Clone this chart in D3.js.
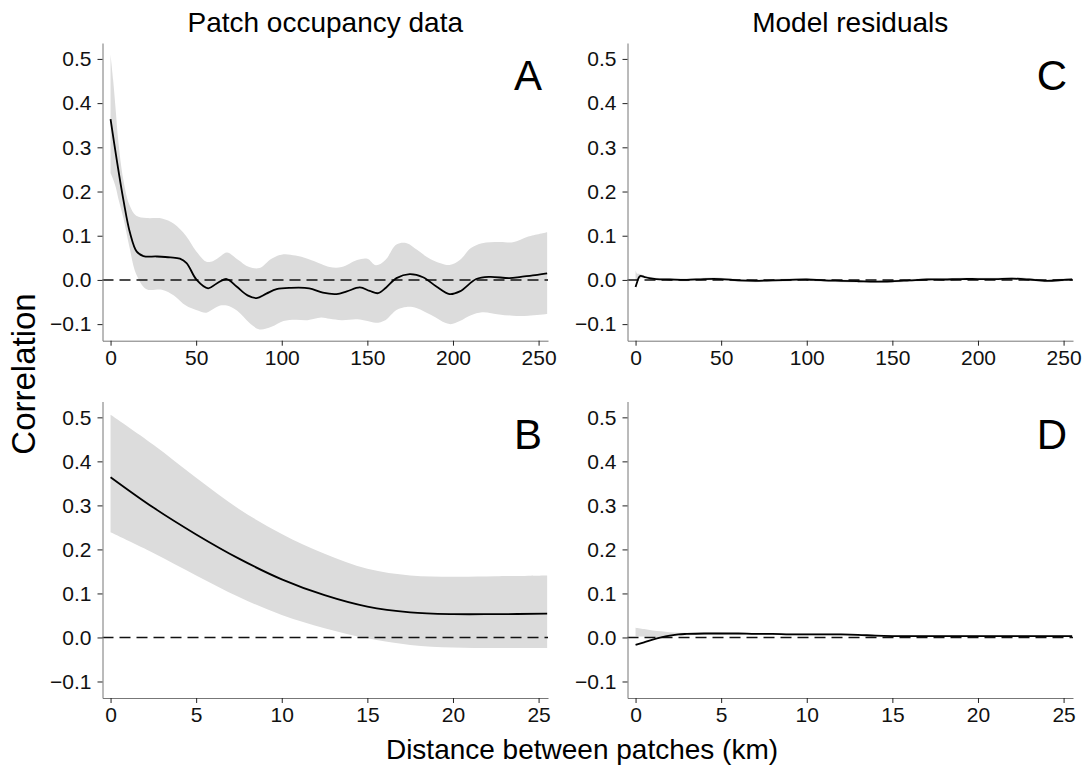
<!DOCTYPE html>
<html>
<head>
<meta charset="utf-8">
<script src="https://cdn.jsdelivr.net/npm/d3@7"></script>
<style>
  body { margin: 0; background: #fff; }
  svg { display: block; font-family: "Liberation Sans", Arial, Helvetica, sans-serif; }
</style>
</head>
<body>
<div id="container"></div>
<script>
// Canvas size
const width = 1087, height = 769;

// ---- data ----
// Panel A: patch occupancy, 0-255 km
const aLineDist = [0, 3.6, 7.5, 11.4, 15.3, 19.2, 27, 35, 40.5, 44.4, 50.3, 57, 62, 67.8, 73.6, 80, 85.3, 91, 97, 105,
    116, 124, 132, 138, 145.6, 151.4, 156.3, 161, 167, 174.7, 182.5, 190.3, 198, 204, 213.6, 221.4, 233, 239.7, 248, 255];
const aLine = [0.364, 0.272, 0.181, 0.106, 0.064, 0.054, 0.053, 0.051, 0.048, 0.038, 0.0, -0.019, -0.008, 0.002, -0.015, -0.035, -0.041, -0.031, -0.021, -0.018,
    -0.019, -0.029, -0.032, -0.026, -0.017, -0.025, -0.030, -0.017, 0.004, 0.013, 0.006, -0.015, -0.032, -0.026, 0.002, 0.007, 0.004, 0.007, 0.011, 0.015];
const aBandDist = [0, 1.5, 3, 4.5, 7.5, 11, 15, 21, 30, 37, 44, 50, 56, 60, 64, 68, 74, 81, 87, 94,
    101, 108, 115, 123, 128, 135, 144, 150, 155, 160.5, 167, 173, 179, 187, 198, 204, 210.5, 217, 227, 235, 244, 255];
const aUpper = [0.510, 0.453, 0.385, 0.315, 0.226, 0.170, 0.145, 0.140, 0.139, 0.127, 0.100, 0.065, 0.041, 0.043, 0.053, 0.062, 0.047, 0.029, 0.027, 0.048,
    0.058, 0.055, 0.048, 0.036, 0.029, 0.029, 0.045, 0.048, 0.033, 0.045, 0.080, 0.083, 0.068, 0.047, 0.034, 0.045, 0.072, 0.083, 0.086, 0.085, 0.098, 0.108];
const aLower = [0.242, 0.228, 0.210, 0.185, 0.140, 0.075, 0.013, -0.021, -0.022, -0.035, -0.058, -0.068, -0.074, -0.066, -0.058, -0.058, -0.070, -0.097, -0.112, -0.106,
    -0.093, -0.090, -0.091, -0.085, -0.088, -0.091, -0.089, -0.093, -0.097, -0.091, -0.068, -0.061, -0.064, -0.079, -0.100, -0.093, -0.080, -0.073, -0.078, -0.081, -0.081, -0.077];

// Panel B: patch occupancy, 0-25 km
const bDist = [0, 2.5, 5, 7.5, 10, 12.5, 15, 17.5, 20, 22.5, 25.5];
const bLine = [0.364, 0.295, 0.234, 0.179, 0.132, 0.096, 0.070, 0.057, 0.053, 0.053, 0.054];
const bUpper = [0.506, 0.438, 0.363, 0.292, 0.235, 0.190, 0.156, 0.141, 0.138, 0.139, 0.141];
const bLower = [0.239, 0.192, 0.141, 0.092, 0.051, 0.021, -0.002, -0.017, -0.023, -0.024, -0.024];

// Panel C: model residuals, 0-255 km
const cDist = [0, 1, 2, 3, 5, 8, 12, 20, 30, 40, 50, 60, 70, 80, 90, 100, 110, 120, 130, 140,
    150, 160, 170, 180, 190, 200, 210, 220, 230, 240, 250, 255];
const cLine = [-0.016, -0.004, 0.006, 0.009, 0.007, 0.004, 0.002, 0.001, 0.0, 0.002, 0.002, -0.001, -0.002, -0.001, 0.0, 0.001, -0.001, -0.002, -0.003, -0.004,
    -0.003, -0.001, 0.001, 0.001, 0.002, 0.002, 0.002, 0.003, 0.001, -0.002, 0.0, 0.001];
const cUpper = [0.022, 0.014, 0.014, 0.013, 0.010, 0.007, 0.005, 0.004, 0.003, 0.005, 0.005, 0.002, 0.001, 0.002, 0.003, 0.004, 0.002, 0.001, 0.000, -0.001,
    0.000, 0.002, 0.004, 0.004, 0.005, 0.005, 0.005, 0.006, 0.004, 0.001, 0.003, 0.004];
const cLower = [0.000, 0.000, 0.002, 0.004, 0.004, 0.001, -0.001, -0.002, -0.003, -0.001, -0.001, -0.004, -0.005, -0.004, -0.003, -0.002, -0.004, -0.005, -0.006, -0.007,
    -0.006, -0.004, -0.002, -0.002, -0.001, -0.001, -0.001, 0.000, -0.002, -0.005, -0.003, -0.002];

// Panel D: model residuals, 0-25 km
const dDist = [0, 0.5, 1, 1.5, 2, 2.5, 3, 4, 5, 6, 7, 8, 9, 10, 11, 12, 13, 14, 15, 17, 19, 21, 23, 25.5];
const dLine = [-0.017, -0.011, -0.005, 0.000, 0.004, 0.007, 0.008, 0.009, 0.009, 0.009, 0.008, 0.008, 0.007, 0.007, 0.007, 0.007, 0.006, 0.004, 0.003, 0.003, 0.003, 0.003, 0.003, 0.003];
const dUpper = [0.022, 0.019, 0.016, 0.014, 0.012, 0.011, 0.011, 0.011, 0.011, 0.010, 0.010, 0.010, 0.009, 0.009, 0.009, 0.009, 0.008, 0.006, 0.005, 0.005, 0.005, 0.005, 0.005, 0.005];
const dLower = [0.003, 0.002, 0.001, 0.001, 0.002, 0.004, 0.005, 0.007, 0.007, 0.007, 0.006, 0.006, 0.005, 0.005, 0.005, 0.005, 0.004, 0.002, 0.001, 0.001, 0.001, 0.001, 0.001, 0.001];

// Tick values
const yTicks = [-0.1, 0, 0.1, 0.2, 0.3, 0.4, 0.5];
const xTicksLong = [0, 50, 100, 150, 200, 250];
const xTicksShort = [0, 5, 10, 15, 20, 25];

// Column titles and axis labels
const colTitles = ["Patch occupancy data", "Model residuals"];
const yLabel = "Correlation";
const xLabel = "Distance between patches (km)";

// ---- layout ----
const svg = d3.select("#container")
    .append("svg")
    .attr("width", width)
    .attr("height", height);

const cols = [{ x0: 102.5, x1: 548 }, { x0: 627.5, x1: 1073 }];
const rows = [{ y0: 43, y1: 340.7 }, { y0: 401.5, y1: 698 }];

const panels = [
    { letter: "A", col: 0, row: 0, xMax: 255.5, ticks: xTicksLong, lineX: aLineDist, lineY: aLine, bandX: aBandDist, up: aUpper, lo: aLower },
    { letter: "B", col: 0, row: 1, xMax: 25.55, ticks: xTicksShort, lineX: bDist, lineY: bLine, bandX: bDist, up: bUpper, lo: bLower },
    { letter: "C", col: 1, row: 0, xMax: 255.5, ticks: xTicksLong, lineX: cDist, lineY: cLine, bandX: cDist, up: cUpper, lo: cLower },
    { letter: "D", col: 1, row: 1, xMax: 25.55, ticks: xTicksShort, lineX: dDist, lineY: dLine, bandX: dDist, up: dUpper, lo: dLower }
];

panels.forEach(p => {
    const c = cols[p.col], r = rows[p.row];
    const x = d3.scaleLinear().domain([-p.xMax * 0.0184, p.xMax]).range([c.x0, c.x1]);
    const y = d3.scaleLinear().domain([-0.1375, 0.536]).range([r.y1, r.y0]);
    const g = svg.append("g");

    // Confidence band
    const area = d3.area()
        .x(d => x(d.x))
        .y0(d => y(d.lo))
        .y1(d => y(d.up))
        .curve(d3.curveCatmullRom.alpha(0.5));
    g.append("path")
        .datum(p.bandX.map((v, i) => ({ x: v, up: p.up[i], lo: p.lo[i] })))
        .attr("d", area)
        .attr("fill", "#dcdcdc");

    // Zero reference line
    g.append("line")
        .attr("x1", c.x0).attr("x2", c.x1)
        .attr("y1", y(0)).attr("y2", y(0))
        .attr("stroke", "#111")
        .attr("stroke-width", 1.5)
        .attr("stroke-dasharray", "11,6");

    // Correlogram line
    const line = d3.line()
        .x(d => x(d[0]))
        .y(d => y(d[1]))
        .curve(d3.curveCatmullRom.alpha(0.5));
    g.append("path")
        .datum(p.lineX.map((v, i) => [v, p.lineY[i]]))
        .attr("d", line)
        .attr("fill", "none")
        .attr("stroke", "#000")
        .attr("stroke-width", 1.8);

    // Axes
    const yAxis = g.append("g")
        .attr("transform", `translate(${c.x0},0)`)
        .call(d3.axisLeft(y).tickValues(yTicks).tickFormat(d3.format(".1f")).tickSize(5).tickSizeOuter(0).tickPadding(6));
    const xAxis = g.append("g")
        .attr("transform", `translate(0,${r.y1})`)
        .call(d3.axisBottom(x).tickValues(p.ticks).tickFormat(d3.format("d")).tickSize(5).tickSizeOuter(0).tickPadding(4));
    [yAxis, xAxis].forEach(a => {
        a.select(".domain").attr("stroke", "#777");
        a.selectAll(".tick line").attr("stroke", "#222");
        a.selectAll(".tick text")
            .attr("font-size", 21)
            .attr("font-family", "'Liberation Sans', Arial, sans-serif")
            .attr("fill", "#111");
    });

    // Panel letter
    g.append("text")
        .attr("x", c.x1 - 6)
        .attr("y", r.y0 + 47)
        .attr("text-anchor", "end")
        .attr("font-size", 42)
        .attr("fill", "#000")
        .text(p.letter);
});

// Column titles
svg.selectAll(".col-title")
    .data(colTitles)
    .enter()
    .append("text")
    .attr("class", "col-title")
    .attr("x", (d, i) => (cols[i].x0 + cols[i].x1) / 2)
    .attr("y", 32)
    .attr("text-anchor", "middle")
    .attr("font-size", 28)
    .attr("fill", "#000")
    .text(d => d);

// Axis titles
svg.append("text")
    .attr("transform", "translate(35,374) rotate(-90)")
    .attr("text-anchor", "middle")
    .attr("font-size", 33)
    .attr("fill", "#000")
    .text(yLabel);

svg.append("text")
    .attr("x", 582)
    .attr("y", 759)
    .attr("text-anchor", "middle")
    .attr("font-size", 28)
    .attr("fill", "#000")
    .text(xLabel);
</script>
</body>
</html>
